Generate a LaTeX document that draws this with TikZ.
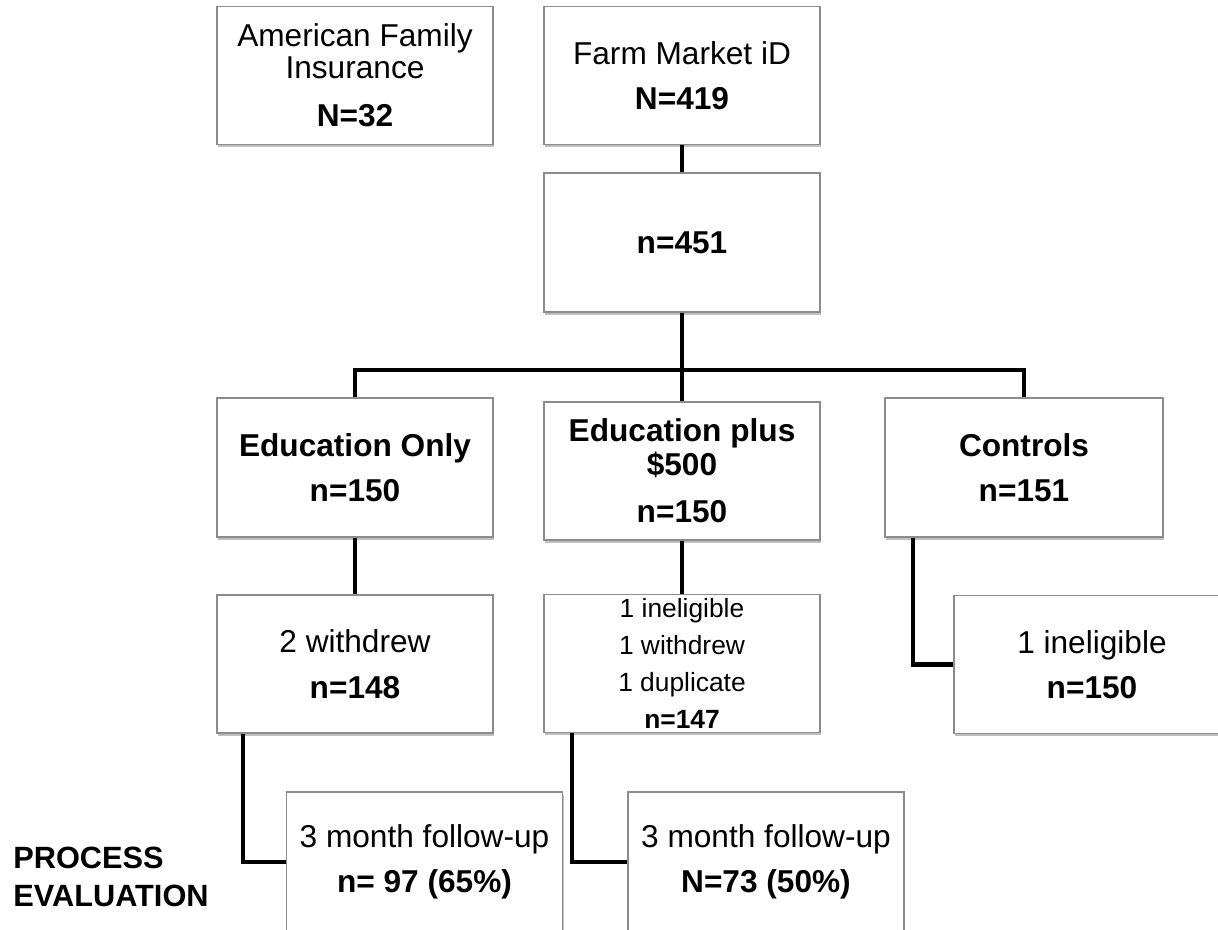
\documentclass[tikz,border=0pt]{standalone}
\usepackage{fontspec}
\setmainfont{Liberation Sans}
\usetikzlibrary{shadows,calc}

\tikzset{
  box/.style={rectangle, draw=black!45, line width=0.8pt, fill=white,
    minimum width=5.52cm, minimum height=2.76cm, inner sep=1pt, align=center,
    font=\fontsize{18}{18.2}\selectfont,
    drop shadow={shadow xshift=0.6pt, shadow yshift=-1.6pt, opacity=0.25, fill=black}},
  link/.style={line width=2.6pt, draw=black}
}

\begin{document}
\begin{tikzpicture}[x=0.02cm, y=-0.02cm]
        \useasboundingbox (0,0) rectangle (1218,930);

        % Define the boxes
        \node[box] (afi) at (355,75.5) {American Family\\Insurance\\[9.1pt]\textbf{N=32}};
        \node[box] (farm) at (682,75.5) {Farm Market iD\\[7.4pt]\textbf{N=419}};
        \node[box, minimum height=2.78cm] (pooled) at (682,242.5) {\textbf{n=451}};
        \node[box, minimum height=2.78cm] (eduonly) at (355,467.5) {\textbf{Education Only}\\[7.4pt]\textbf{n=150}};
        \node[box] (eduplus) at (682,471) {\textbf{Education plus}\\[1pt]\textbf{\$500}\\[8.5pt]\textbf{n=150}};
        \node[box, minimum width=5.56cm, minimum height=2.78cm] (controls) at (1024,467.5) {\textbf{Controls}\\[7.4pt]\textbf{n=151}};
        \node[box] (withdrew) at (355,664) {2 withdrew\\[8pt]\textbf{n=148}};
        \node[box, font=\fontsize{15}{21}\selectfont] (dropped) at (682,663.5) {1 ineligible\\1 withdrew\\1 duplicate\\\textbf{n=147}};
        \node[box] (inelig) at (1092,664.5) {1 ineligible\\[7.4pt]\textbf{n=150}};
        \node[box, minimum height=2.8cm] (followA) at (424.5,862) {3 month follow-up\\[7.4pt]\textbf{n= 97 (65\%)}};
        \node[box, minimum height=2.8cm] (followB) at (766,862) {3 month follow-up\\[7.4pt]\textbf{N=73 (50\%)}};
        \node[font=\fontsize{17.5}{21.6}\selectfont\bfseries, align=left, anchor=west, inner sep=0pt] (process) at (13,877) {PROCESS\\EVALUATION};

        % Define the connectors
        \coordinate (split) at (682,370);
        \draw[link] (farm) -- (pooled);
        \draw[link] (pooled) -- (eduplus);
        \draw[link] (eduonly.north) |- (split) -| (controls.north);
        \draw[link] (eduonly) -- (withdrew);
        \draw[link] (eduplus) -- (dropped);
        \draw[link] ($(controls.south)+(-111,0)$) |- (inelig.west);
        \draw[link] ($(withdrew.south)+(-112,0)$) |- (followA.west);
        \draw[link] ($(dropped.south)+(-110,0)$) |- (followB.west);
    \end{tikzpicture}
\end{document}
